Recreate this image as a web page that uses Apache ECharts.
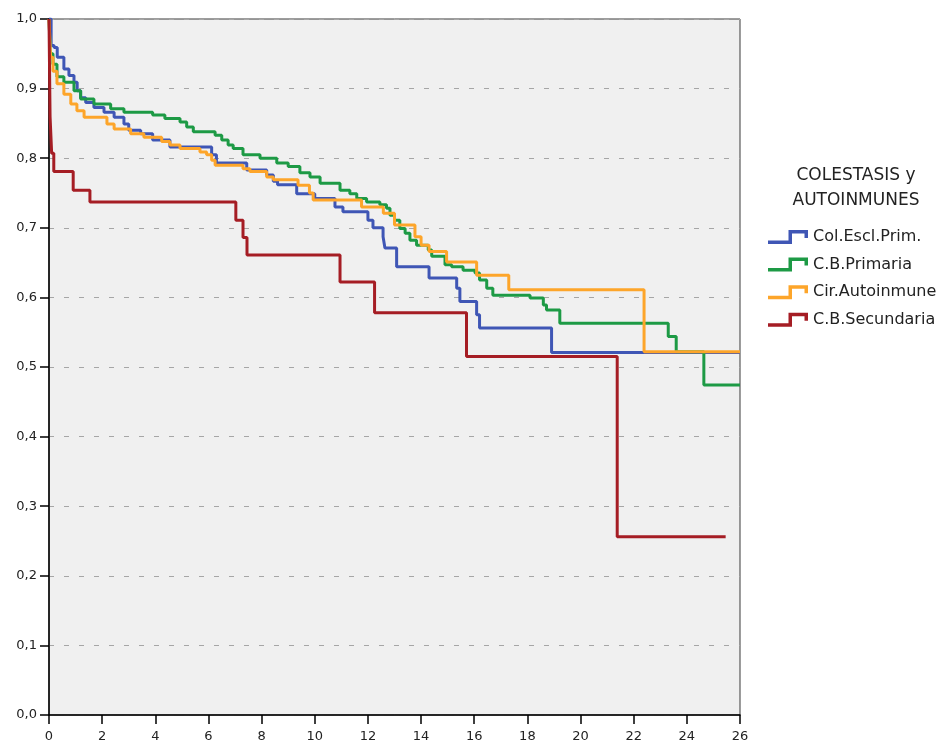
<!DOCTYPE html>
<html><head><meta charset="utf-8">
<script src="https://cdn.jsdelivr.net/npm/echarts@6/dist/echarts.min.js"></script>
<style>html,body{margin:0;padding:0;background:#fff}#c{width:948px;height:746px}</style>
</head><body><div id="c"></div>
<script>
// Legend / series names
const seriesNames = ['Col.Escl.Prim.', 'C.B.Primaria', 'Cir.Autoinmune', 'C.B.Secundaria'];
const legendTitle = 'COLESTASIS y\nAUTOINMUNES';
const xTicks = [0, 2, 4, 6, 8, 10, 12, 14, 16, 18, 20, 22, 24, 26];
const yTicks = [0, 0.1, 0.2, 0.3, 0.4, 0.5, 0.6, 0.7, 0.8, 0.9, 1.0];

// Col.Escl.Prim.
const cepTimes = [0, 0.08, 0.19, 0.31, 0.56, 0.75, 0.94, 1.06, 1.19, 1.38, 1.69, 2.07, 2.45, 2.82, 3.0, 3.45, 3.9, 4.55, 6.12, 6.3, 7.44, 8.19, 8.44, 8.6, 9.32, 10.0, 10.76, 11.06, 12.0, 12.19, 12.57, 12.64, 13.08, 14.3, 15.34, 15.46, 16.09, 16.2, 18.91, 26];
const cepSurv  = [1.0, 0.962, 0.959, 0.945, 0.928, 0.919, 0.909, 0.897, 0.887, 0.880, 0.873, 0.866, 0.859, 0.849, 0.840, 0.835, 0.826, 0.816, 0.805, 0.793, 0.783, 0.776, 0.767, 0.762, 0.749, 0.742, 0.730, 0.723, 0.711, 0.700, 0.687, 0.671, 0.644, 0.628, 0.613, 0.594, 0.575, 0.556, 0.521, 0.521];

// C.B.Primaria
const cbpTimes = [0, 0.05, 0.15, 0.3, 0.56, 0.94, 1.19, 1.69, 2.32, 2.82, 3.9, 4.36, 4.93, 5.18, 5.43, 6.25, 6.5, 6.74, 6.93, 7.3, 7.94, 8.57, 9.0, 9.44, 9.82, 10.2, 10.95, 11.32, 11.58, 11.95, 12.45, 12.7, 12.83, 13.0, 13.2, 13.4, 13.58, 13.83, 14.27, 14.4, 14.9, 15.15, 15.58, 16.03, 16.2, 16.47, 16.7, 18.1, 18.6, 18.72, 19.22, 23.3, 23.6, 24.64, 26];
const cbpSurv  = [1.0, 0.95, 0.935, 0.917, 0.909, 0.897, 0.885, 0.878, 0.871, 0.866, 0.862, 0.857, 0.852, 0.845, 0.838, 0.833, 0.826, 0.819, 0.814, 0.805, 0.800, 0.793, 0.788, 0.779, 0.773, 0.764, 0.754, 0.749, 0.742, 0.737, 0.733, 0.728, 0.718, 0.711, 0.699, 0.692, 0.682, 0.675, 0.668, 0.659, 0.647, 0.644, 0.639, 0.635, 0.625, 0.613, 0.603, 0.599, 0.589, 0.582, 0.563, 0.544, 0.522, 0.474, 0.474];

// Cir.Autoinmune
const caiTimes = [0, 0.06, 0.15, 0.3, 0.56, 0.82, 1.05, 1.32, 2.18, 2.45, 3.07, 3.57, 4.24, 4.55, 4.93, 5.68, 5.93, 6.12, 6.25, 7.3, 7.56, 8.19, 8.44, 9.37, 9.8, 9.94, 11.76, 12.58, 13.0, 13.77, 14.0, 14.3, 14.96, 16.09, 17.3, 22.39, 26];
const caiSurv  = [1.0, 0.945, 0.925, 0.907, 0.892, 0.878, 0.868, 0.859, 0.849, 0.842, 0.835, 0.830, 0.824, 0.819, 0.814, 0.809, 0.805, 0.797, 0.790, 0.785, 0.781, 0.773, 0.769, 0.761, 0.750, 0.740, 0.730, 0.721, 0.704, 0.687, 0.675, 0.666, 0.651, 0.632, 0.611, 0.522, 0.522];

// C.B.Secundaria
const cbsTimes = [0, 0.04, 0.1, 0.18, 0.91, 1.54, 7.03, 7.3, 7.45, 10.95, 12.25, 15.71, 21.38, 25.46];
const cbsSurv  = [1.0, 0.86, 0.807, 0.781, 0.754, 0.737, 0.711, 0.686, 0.661, 0.622, 0.578, 0.515, 0.256, 0.256];

const colors = ['#3f56b5', '#1d9a45', '#fda52a', '#a51d24'];
const stepIcon = 'path://M0,10.5L20.5,10.5L20.5,0L40,0L40,8L36.5,8L36.5,3.5L24,3.5L24,14L0,14Z';

function zip(t, s) { return t.map((v, i) => [v, s[i]]); }
const allData = [zip(cepTimes, cepSurv), zip(cbpTimes, cbpSurv), zip(caiTimes, caiSurv), zip(cbsTimes, cbsSurv)];

const chart = echarts.init(document.getElementById('c'), null, { renderer: 'canvas' });
const fmt = v => v.toFixed(1).replace('.', ',');

chart.setOption({
  animation: false,
  backgroundColor: '#ffffff',
  title: {
    text: legendTitle,
    left: 856, top: 163,
    padding: 0,
    textAlign: 'center',
    textStyle: { fontFamily: 'DejaVu Sans', fontSize: 17, fontWeight: 'normal', color: '#222', lineHeight: 25 }
  },
  legend: {
    orient: 'vertical',
    left: 768, top: 229,
    padding: 0,
    itemWidth: 40, itemHeight: 14, itemGap: 11.6,
    itemStyle: { borderWidth: 0 },
    textStyle: { fontFamily: 'DejaVu Sans', fontSize: 16, color: '#222', padding: [0, 0, 0, 0] },
    data: seriesNames.map(n => ({ name: n, icon: stepIcon }))
  },
  grid: {
    left: 49, right: 208, top: 19, bottom: 31,
    show: true, backgroundColor: '#f0f0f0', borderColor: '#3a3a3a', borderWidth: 1
  },
  xAxis: {
    type: 'value', min: 0, max: 26, interval: 2,
    axisLine: { show: true, onZero: false, lineStyle: { color: '#000', width: 1.5 } },
    axisTick: { show: true, length: 9, lineStyle: { color: '#000', width: 1.5 } },
    axisLabel: { margin: 15, fontFamily: 'DejaVu Sans', fontSize: 13, color: '#222',
      formatter: v => xTicks.includes(v) ? String(v) : '' },
    splitLine: { show: false }
  },
  yAxis: {
    type: 'value', min: 0, max: 1, interval: 0.1,
    axisLine: { show: true, onZero: false, lineStyle: { color: '#000', width: 1.5 } },
    axisTick: { show: true, length: 9, lineStyle: { color: '#000', width: 1.5 } },
    axisLabel: { margin: 12, fontFamily: 'DejaVu Sans', fontSize: 13, color: '#222',
      formatter: v => fmt(yTicks.reduce((a, b) => Math.abs(b - v) < Math.abs(a - v) ? b : a)) },
    splitLine: { show: true, lineStyle: { color: '#a6a6a6', width: 1, type: [5, 10] } }
  },
  series: seriesNames.map((n, i) => ({
    name: n, type: 'line', step: 'end',
    data: allData[i],
    showSymbol: false, symbol: 'none',
    color: colors[i],
    lineStyle: { color: colors[i], width: 3 },
    itemStyle: { color: colors[i], borderWidth: 0 },
    z: 2 + i
  }))
});
</script>
</body></html>
